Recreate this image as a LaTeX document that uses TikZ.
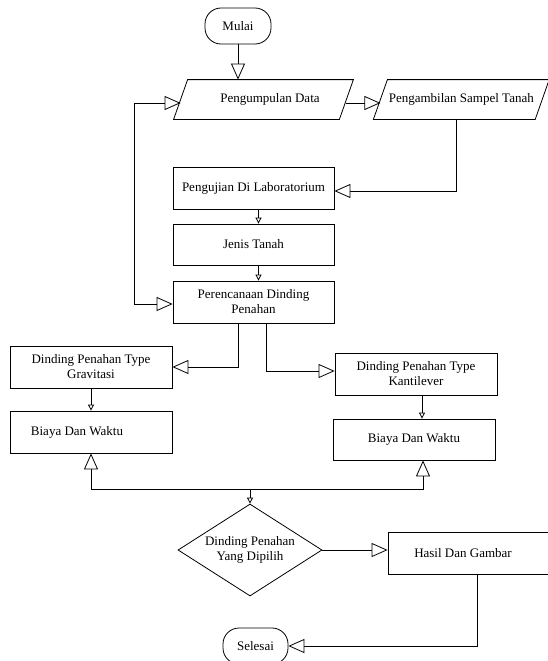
\documentclass[tikz,border=0pt]{standalone}
\usepackage{fontspec}
\setmainfont{Liberation Serif}
\usetikzlibrary{arrows.meta,shapes.geometric,calc}
\tikzset{
  base/.style={font=\fontsize{13}{15}\selectfont, align=center, inner sep=0pt, line width=0.8pt},
  box/.style={base, draw, rectangle},
  term/.style={base, draw, rectangle, rounded corners=16pt},
  para/.style={base},
  dec/.style={base, draw, diamond, aspect=1.565},
  conn/.style={line width=0.8pt},
  bigtip/.tip={Triangle[open,length=16pt,width=14pt]},
  smalltip/.tip={Triangle[open,length=6pt,width=6pt]},
}
\begin{document}
\begin{tikzpicture}[x=1pt,y=-1pt]
\useasboundingbox (0,0) rectangle (547,661);

% nodes
\node[term, minimum width=66pt, minimum height=36pt] (mulai) at (238,26) {Mulai};
\node[para, minimum width=165pt, minimum height=39pt] (pd) at (263.5,99.5) {\hspace*{13pt}Pengumpulan Data};
\draw[conn] ([xshift=7pt]pd.north west) -- ([xshift=7pt]pd.north east) -- ([xshift=-7pt]pd.south east) -- ([xshift=-7pt]pd.south west) -- cycle;
\node[para, minimum width=161pt, minimum height=39pt] (ps) at (461.3,99.5) {Pengambilan Sampel Tanah};
\draw[conn] ([xshift=7pt]ps.north west) -- ([xshift=7pt]ps.north east) -- ([xshift=-7pt]ps.south east) -- ([xshift=-7pt]ps.south west) -- cycle;
\node[box, minimum width=161pt, minimum height=42pt] (uji) at (253.5,188) {Pengujian Di Laboratorium};
\node[box, minimum width=161pt, minimum height=41pt] (jenis) at (253.5,244.5) {Jenis Tanah};
\node[box, minimum width=161pt, minimum height=42pt] (rencana) at (253.5,302) {Perencanaan Dinding\\Penahan};
\node[box, minimum width=162pt, minimum height=42pt] (grav) at (91,367) {Dinding Penahan Type\\Gravitasi};
\node[box, minimum width=162pt, minimum height=42pt] (kant) at (416,374) {Dinding Penahan Type\\Kantilever};
\node[box, minimum width=162pt, minimum height=42pt] (biayaL) at (91,432) {Biaya Dan Waktu\hspace*{28pt}};
\node[box, minimum width=162pt, minimum height=41pt] (biayaR) at (414,439.5) {Biaya Dan Waktu};
\node[dec, minimum width=144pt, minimum height=92pt] (dia) at (250,550) {Dinding Penahan\\Yang Dipilih};
\node[box, minimum width=172pt, minimum height=42pt] (hasil) at (474,553) {Hasil Dan Gambar\hspace*{22pt}};
\node[term, minimum width=65pt, minimum height=36pt] (selesai) at (255.5,646) {Selesai};

% helper coordinates
\coordinate (loopA) at (134,103);
\coordinate (loopB) at (134,304);
\coordinate (c1) at (456,191);
\coordinate (c2) at (238,367);
\coordinate (c3) at (266,371);
\coordinate (c4) at (422,0);
\coordinate (j) at (250,489);
\coordinate (jR) at (423,489);
\coordinate (c5) at (477,646);

% connectors
\draw[conn,-bigtip] (mulai.south) -- (mulai.south |- pd.north);
\draw[conn,bigtip-bigtip] (pd.west |- loopA) -- (loopA) -- (loopB) -- (rencana.west |- loopB);
\draw[conn,-bigtip] ([yshift=-3.5pt]pd.east) -- ([yshift=-3.5pt]ps.west);
\draw[conn,-bigtip] (c1 |- ps.south) -- (c1) -- (uji.east |- c1);
\draw[conn,-smalltip] ([xshift=5pt]uji.south) -- ([xshift=5pt]jenis.north);
\draw[conn,-smalltip] ([xshift=5pt]jenis.south) -- ([xshift=5pt]rencana.north);
\draw[conn,-bigtip] (c2 |- rencana.south) -- (c2) -- (grav.east);
\draw[conn,-bigtip] (c3 |- rencana.south) -- (c3) -- (kant.west |- c3);
\draw[conn,-smalltip] (grav.south) -- (biayaL.north);
\draw[conn,-smalltip] (c4 |- kant.south) -- (c4 |- biayaR.north);
\draw[conn,bigtip-bigtip] (biayaL.south) -- (biayaL.south |- j) -- (jR) -- (jR |- biayaR.south);
\draw[conn,-smalltip] (j) -- (dia.north);
\draw[conn,-bigtip] (dia.east) -- (hasil.west |- dia.east);
\draw[conn,-bigtip] (c5 |- hasil.south) -- (c5) -- (selesai.east);
\end{tikzpicture}
\end{document}
